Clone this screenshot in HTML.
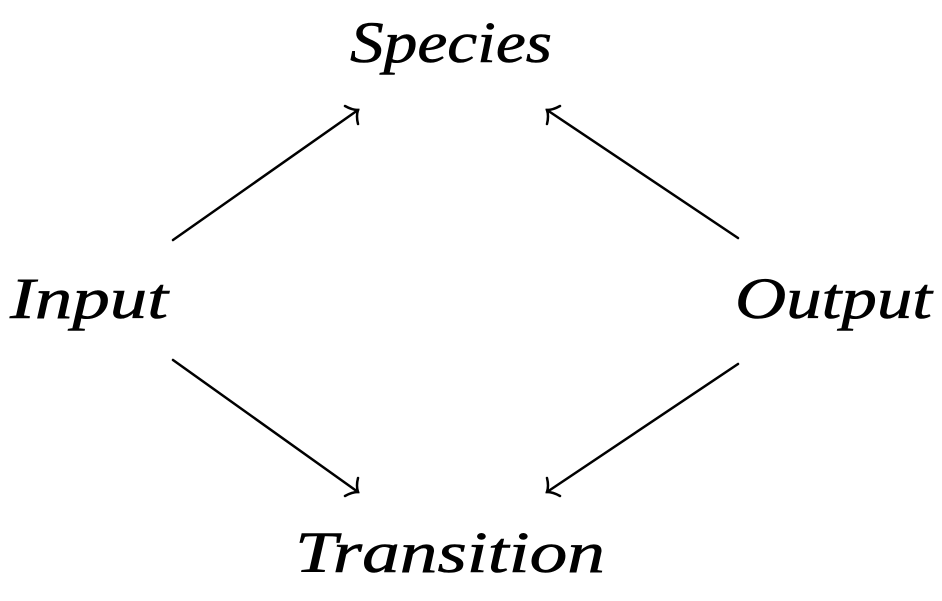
<!DOCTYPE html>
<html><head><style>html,body{margin:0;padding:0;background:#fff}</style></head>
<body>
<svg width="942" height="596" viewBox="0 0 942 596" xmlns="http://www.w3.org/2000/svg">
<g font-family="Liberation Serif, serif" font-style="italic" font-size="58" fill="#000" stroke="#000" stroke-width="0.6">
<text x="350" y="62" textLength="202" lengthAdjust="spacingAndGlyphs">Species</text>
<text x="295" y="572" textLength="310" lengthAdjust="spacingAndGlyphs">Transition</text>
<text x="10" y="318" textLength="158" lengthAdjust="spacingAndGlyphs">Input</text>
<text x="735" y="318" textLength="197" lengthAdjust="spacingAndGlyphs">Output</text>
</g>
<g stroke="#000" stroke-width="2.5" fill="none" stroke-linecap="round">
<line x1="173" y1="240" x2="358" y2="110"/>
<path d="M345 106 Q352 110 358 110 Q356 116 358 124"/>
<line x1="738" y1="238" x2="547" y2="110"/>
<path d="M560 106 Q553 110 547 110 Q549 116 547 124"/>
<line x1="173" y1="360" x2="358" y2="492"/>
<path d="M345 496 Q352 492 358 492 Q356 486 358 478"/>
<line x1="738" y1="364" x2="547" y2="492"/>
<path d="M560 496 Q553 492 547 492 Q549 486 547 478"/>
</g>
</svg>
</body></html>
